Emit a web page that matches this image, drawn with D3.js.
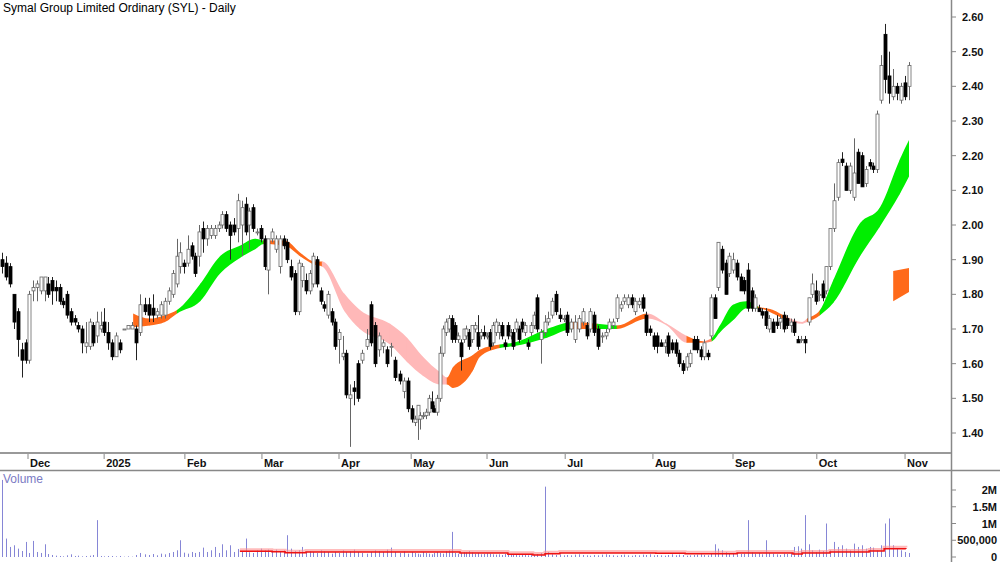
<!DOCTYPE html>
<html><head><meta charset="utf-8">
<script src="https://cdn.jsdelivr.net/npm/d3@7"></script>
<style>body{margin:0;background:#fff}svg{display:block;font-family:Arial,"Liberation Sans",sans-serif}</style>
</head><body><svg id="c" width="1000" height="562"></svg>
<script>
const title = "Symal Group Limited Ordinary (SYL) - Daily";
const monthLabels = ["Dec","2025","Feb","Mar","Apr","May","Jun","Jul","Aug","Sep","Oct","Nov"];
const monthIdx = [6.6,26.9,47.2,67.3,88,105.8,132,156.4,179.8,202,225.3,248];
const priceTicks = [1.4,1.5,1.6,1.7,1.8,1.9,2.0,2.1,2.2,2.3,2.4,2.5,2.6];
const volTicks = [0,500000,1000000,1500000,2000000];
const volTickLabels = ["0","500,000","1M","1.5M","2M"];
// OHLC by month
const ohlcNov = [[1.90,1.92,1.86,1.88],[1.89,1.91,1.84,1.85],[1.88,1.89,1.82,1.83],[1.80,1.80,1.70,1.72],[1.75,1.76,1.62,1.67],[1.64,1.66,1.56,1.61],[1.66,1.67,1.60,1.61],[1.61,1.81,1.60,1.80]];
const ohlcDec = [[1.81,1.84,1.78,1.82],[1.82,1.84,1.78,1.83],[1.81,1.85,1.80,1.85],[1.81,1.85,1.78,1.85],[1.83,1.85,1.79,1.80],[1.84,1.85,1.77,1.81],[1.82,1.84,1.78,1.81],[1.82,1.83,1.77,1.78],[1.78,1.79,1.76,1.77],[1.80,1.81,1.73,1.74],[1.75,1.76,1.71,1.72],[1.73,1.74,1.71,1.72],[1.71,1.72,1.69,1.70],[1.70,1.71,1.63,1.66],[1.65,1.72,1.63,1.66],[1.65,1.73,1.64,1.72],[1.71,1.72,1.65,1.66],[1.68,1.75,1.66,1.72],[1.70,1.75,1.69,1.71],[1.72,1.76,1.68,1.69],[1.69,1.72,1.64,1.66]];
const ohlcJan = [[1.66,1.67,1.61,1.62],[1.62,1.69,1.62,1.68],[1.66,1.67,1.63,1.64],[1.70,1.70,1.70,1.70],[1.70,1.71,1.70,1.71],[1.70,1.72,1.70,1.71],[1.70,1.71,1.61,1.66],[1.69,1.80,1.68,1.77],[1.77,1.79,1.74,1.75],[1.77,1.79,1.72,1.74],[1.76,1.80,1.72,1.74],[1.74,1.76,1.73,1.75],[1.74,1.78,1.73,1.77],[1.74,1.79,1.73,1.78],[1.78,1.82,1.77,1.81],[1.80,1.87,1.79,1.86],[1.83,1.96,1.82,1.91],[1.88,1.95,1.86,1.92],[1.89,1.90,1.86,1.88],[1.89,1.97,1.88,1.93],[1.94,1.95,1.90,1.91],[1.91,1.92,1.85,1.86],[1.91,2.00,1.88,1.98]];
const ohlcFeb = [[1.99,2.01,1.92,1.96],[1.96,2.00,1.94,1.99],[1.97,2.00,1.96,1.99],[1.97,2.00,1.96,1.99],[1.99,2.01,1.98,2.00],[2.00,2.04,1.99,2.03],[2.03,2.04,1.98,1.99],[2.00,2.01,1.90,1.97],[2.00,2.02,1.97,1.98],[1.99,2.09,1.95,2.07],[2.00,2.07,1.91,2.05],[2.06,2.08,1.97,1.98],[2.00,2.05,1.93,2.04],[2.05,2.06,1.98,1.99],[1.98,1.99,1.97,1.98],[1.99,2.00,1.95,1.96],[1.96,1.97,1.87,1.88],[1.87,1.96,1.80,1.96],[1.96,1.99,1.95,1.98],[1.93,1.97,1.92,1.96],[1.88,1.97,1.86,1.96]];
const ohlcMar = [[1.96,1.97,1.93,1.94],[1.95,1.96,1.89,1.90],[1.88,1.90,1.84,1.85],[1.86,1.87,1.74,1.75],[1.75,1.90,1.74,1.89],[1.84,1.89,1.82,1.88],[1.84,1.86,1.80,1.81],[1.81,1.87,1.80,1.86],[1.83,1.92,1.82,1.91],[1.90,1.91,1.82,1.83],[1.81,1.82,1.77,1.78],[1.77,1.78,1.75,1.76],[1.74,1.81,1.73,1.80],[1.75,1.76,1.71,1.72],[1.72,1.73,1.64,1.65],[1.67,1.70,1.60,1.69],[1.62,1.68,1.61,1.63],[1.63,1.64,1.50,1.51],[1.50,1.54,1.36,1.51],[1.53,1.55,1.48,1.52],[1.60,1.61,1.49,1.50]];
const ohlcApr = [[1.61,1.64,1.60,1.63],[1.65,1.70,1.64,1.67],[1.77,1.78,1.65,1.66],[1.71,1.72,1.59,1.60],[1.64,1.69,1.62,1.68],[1.65,1.67,1.63,1.66],[1.64,1.65,1.59,1.60],[1.65,1.66,1.62,1.65],[1.61,1.62,1.55,1.56],[1.57,1.58,1.54,1.55],[1.52,1.56,1.50,1.55],[1.55,1.56,1.46,1.47],[1.47,1.48,1.43,1.44],[1.43,1.45,1.42,1.44],[1.44,1.48,1.38,1.48],[1.44,1.46,1.41,1.45],[1.45,1.46,1.44,1.45],[1.45,1.47,1.44,1.46],[1.46,1.51,1.45,1.50],[1.49,1.52,1.46,1.47],[1.47,1.48,1.46,1.46]];
const ohlcMay = [[1.46,1.51,1.45,1.50],[1.50,1.65,1.49,1.63],[1.63,1.71,1.62,1.70],[1.69,1.73,1.68,1.72],[1.70,1.74,1.69,1.73],[1.73,1.74,1.66,1.67],[1.71,1.72,1.66,1.67],[1.67,1.69,1.66,1.68],[1.66,1.67,1.58,1.62],[1.67,1.70,1.66,1.70],[1.68,1.71,1.67,1.70],[1.69,1.70,1.64,1.65],[1.67,1.71,1.66,1.71],[1.70,1.72,1.69,1.71],[1.69,1.74,1.64,1.65],[1.68,1.70,1.67,1.69],[1.69,1.71,1.67,1.68],[1.68,1.69,1.67,1.68],[1.69,1.70,1.64,1.65],[1.66,1.72,1.65,1.71],[1.69,1.73,1.68,1.72]];
const ohlcJun = [[1.69,1.72,1.67,1.71],[1.71,1.72,1.67,1.68],[1.66,1.67,1.64,1.65],[1.71,1.72,1.67,1.68],[1.68,1.70,1.67,1.69],[1.69,1.70,1.64,1.65],[1.70,1.73,1.69,1.72],[1.70,1.71,1.66,1.67],[1.72,1.73,1.69,1.70],[1.69,1.72,1.68,1.71],[1.66,1.67,1.64,1.65],[1.69,1.72,1.68,1.71],[1.71,1.75,1.70,1.74],[1.79,1.80,1.69,1.70],[1.67,1.70,1.60,1.69],[1.69,1.74,1.68,1.72],[1.72,1.75,1.71,1.73],[1.74,1.79,1.73,1.78],[1.80,1.81,1.74,1.75],[1.74,1.76,1.72,1.73],[1.73,1.74,1.72,1.73]];
const ohlcJul = [[1.74,1.75,1.68,1.69],[1.70,1.73,1.69,1.72],[1.67,1.74,1.66,1.72],[1.70,1.74,1.69,1.73],[1.72,1.76,1.71,1.75],[1.71,1.72,1.67,1.68],[1.70,1.76,1.69,1.75],[1.74,1.75,1.68,1.69],[1.70,1.71,1.64,1.65],[1.68,1.69,1.66,1.68],[1.68,1.70,1.67,1.69],[1.70,1.73,1.69,1.72],[1.71,1.73,1.70,1.72],[1.73,1.80,1.72,1.79],[1.76,1.78,1.75,1.77],[1.78,1.80,1.77,1.79],[1.77,1.80,1.76,1.79],[1.79,1.80,1.76,1.77],[1.75,1.79,1.74,1.78],[1.77,1.79,1.76,1.78],[1.79,1.80,1.75,1.76],[1.74,1.75,1.68,1.69],[1.70,1.71,1.68,1.69],[1.68,1.69,1.64,1.65],[1.68,1.69,1.63,1.65]];
const ohlcAug = [[1.66,1.67,1.65,1.65],[1.65,1.67,1.63,1.66],[1.68,1.69,1.62,1.63],[1.66,1.67,1.63,1.64],[1.66,1.67,1.62,1.63],[1.63,1.64,1.59,1.60],[1.60,1.61,1.57,1.58],[1.59,1.63,1.58,1.62],[1.60,1.64,1.59,1.63],[1.67,1.68,1.64,1.64],[1.67,1.68,1.63,1.64],[1.64,1.65,1.61,1.62],[1.62,1.67,1.61,1.66],[1.63,1.64,1.61,1.62],[1.68,1.80,1.67,1.79],[1.79,1.80,1.73,1.73],[1.82,1.95,1.81,1.95],[1.93,1.94,1.86,1.87],[1.89,1.90,1.80,1.80],[1.86,1.92,1.85,1.91],[1.87,1.92,1.86,1.90],[1.89,1.90,1.84,1.85],[1.85,1.86,1.81,1.81],[1.84,1.85,1.80,1.81],[1.87,1.89,1.75,1.76]];
const ohlcSep = [[1.81,1.82,1.75,1.76],[1.76,1.80,1.75,1.79],[1.76,1.77,1.75,1.75],[1.75,1.76,1.73,1.74],[1.75,1.76,1.70,1.71],[1.70,1.74,1.69,1.73],[1.72,1.73,1.69,1.69],[1.72,1.74,1.70,1.71],[1.72,1.74,1.70,1.73],[1.74,1.75,1.69,1.70],[1.73,1.74,1.70,1.71],[1.71,1.73,1.69,1.72],[1.72,1.73,1.68,1.69],[1.67,1.68,1.66,1.66],[1.67,1.68,1.66,1.67],[1.67,1.68,1.63,1.66],[1.72,1.79,1.71,1.79],[1.80,1.86,1.79,1.83],[1.81,1.84,1.77,1.78],[1.80,1.81,1.78,1.80],[1.83,1.84,1.78,1.79],[1.81,1.88,1.80,1.88]];
const ohlcOct = [[1.88,1.99,1.87,1.99],[1.99,2.12,1.98,2.07],[2.08,2.19,2.07,2.18],[2.19,2.21,2.17,2.18],[2.17,2.18,2.10,2.10],[2.10,2.18,2.09,2.17],[2.08,2.25,2.07,2.15],[2.21,2.22,2.12,2.12],[2.20,2.21,2.11,2.11],[2.12,2.17,2.11,2.16],[2.18,2.19,2.16,2.17],[2.17,2.18,2.15,2.16],[2.16,2.33,2.15,2.32],[2.36,2.49,2.35,2.46],[2.55,2.58,2.38,2.42],[2.43,2.50,2.35,2.38],[2.37,2.45,2.36,2.40],[2.40,2.41,2.36,2.38],[2.36,2.41,2.35,2.40],[2.41,2.43,2.36,2.37],[2.40,2.47,2.36,2.46]];
// volume (thousands)
const volNov = [2300,550,300,350,250,180,450,120];
const volDec = [480,150,120,380,90,60,40,30,20,50,80,30,40,20,30,40,60,1100,30,20,30];
const volJan = [30,20,30,10,20,10,60,120,80,60,90,50,100,80,120,150,200,500,130,100,150,120,150];
const volFeb = [280,150,200,300,120,380,200,350,150,240,180,550,140,120,200,250,200,220,200,220,180];
const volMar = [200,650,250,180,200,300,150,180,150,120,200,180,150,100,150,120,200,150,180,220,150];
const volApr = [120,100,150,200,180,150,220,280,150,120,180,100,150,120,100,80,150,120,100,80,120];
const volMay = [150,120,100,180,200,750,120,100,130,150,150,180,150,100,120,80,90,110,100,80,70];
const volJun = [80,60,90,100,70,80,60,50,70,60,50,80,70,90,120,2100,150,80,60,70,50];
const volJul = [60,50,70,80,60,50,40,60,50,70,80,60,50,40,60,70,50,40,60,50,70,60,80,50,60];
const volAug = [50,40,60,80,50,70,60,40,50,60,70,80,60,50,120,380,250,200,150,100,120,80,90,100,1100];
const volSep = [150,100,120,80,500,120,100,80,60,100,90,120,300,320,250,1250,380,200,150,220,180,1000];
const volOct = [200,450,300,350,250,200,400,300,350,250,300,280,200,350,1000,1150,350,250,200,150,120];
// volume moving average (index, millions)
const volMaIdx = [61.5,69.9,73.4,79,107.1,122.8,133,139.1,147.6,151.1,155,180.6,188.6,203.1,214.4,218.6,221.2,229,238.9,242.7,248.2];
const volMaVal = [0.17,0.16,0.13,0.15,0.15,0.12,0.12,0.08,0.06,0.10,0.12,0.11,0.10,0.12,0.12,0.09,0.12,0.15,0.18,0.25,0.24];
// ribbon: index, top, bottom, state of following segment (o=orange,g=green,p=pink)
const ribIdx = [34.2,38.3,42.0,45.1,51.3,56.4,61.5,65.5,67.8,73.4,77.4,81.4,83.4,89.6,93.4,100.7,104.8,109.9,116,118.4,120.4,127.2,129.6,136.4,140.8,151.6,158.5,164.8,170,178.2,183.6,189.1,193.7,196.3,198.5,202,205.7,208.8,213,216.9,221.2,222.6,226.2,229.8,236.6,241.6,246.7,249];
const ribTop = [1.745,1.73,1.74,1.755,1.83,1.91,1.94,1.96,1.955,1.955,1.92,1.895,1.895,1.80,1.755,1.715,1.675,1.62,1.575,1.56,1.59,1.625,1.64,1.655,1.66,1.70,1.72,1.715,1.71,1.745,1.715,1.68,1.665,1.675,1.71,1.77,1.78,1.765,1.755,1.735,1.72,1.73,1.755,1.84,2.005,2.05,2.19,2.245];
const ribBot = [1.705,1.71,1.72,1.745,1.78,1.86,1.905,1.93,1.945,1.94,1.91,1.885,1.88,1.75,1.70,1.655,1.605,1.565,1.54,1.54,1.53,1.58,1.62,1.645,1.65,1.675,1.70,1.70,1.70,1.73,1.71,1.66,1.66,1.665,1.69,1.725,1.76,1.76,1.745,1.725,1.715,1.72,1.74,1.775,1.91,1.995,2.09,2.14];
const ribState = "ooogggggoooopppppppoooogggogopponggggooppogggggg";
const projIdx = [245,249], projTop = [1.867,1.876], projBot = [1.78,1.807];

const ohlc = [].concat(ohlcNov,ohlcDec,ohlcJan,ohlcFeb,ohlcMar,ohlcApr,ohlcMay,ohlcJun,ohlcJul,ohlcAug,ohlcSep,ohlcOct);
const vols = [].concat(volNov,volDec,volJan,volFeb,volMar,volApr,volMay,volJun,volJul,volAug,volSep,volOct);

const svg = d3.select("#c");
const x = d3.scaleLinear()
  .domain([0,5,29,44,51,61,76,91,106,116,149,170,188,198,206,229,249])
  .range([2,22,112,173,199,238,295,350,412,440,537,617,683,718,748,830,909]);
const y = d3.scaleLinear().domain([1.4,2.6]).range([433,17]);
const yv = d3.scaleLinear().domain([0,2000000]).range([557,490]);

svg.append("line").attr("x1",951.5).attr("x2",951.5).attr("y1",0).attr("y2",562).attr("stroke","#888").attr("stroke-width",1.5);
svg.append("line").attr("x1",0).attr("x2",951).attr("y1",453).attr("y2",453).attr("stroke","#999").attr("stroke-width",2);
svg.append("line").attr("x1",0).attr("x2",1000).attr("y1",470.5).attr("y2",470.5).attr("stroke","#888").attr("stroke-width",1.5);

// ribbon: one smooth area, clipped per colour segment
const colors = {o:"#ff6a1a",g:"#00ee00",p:"#ffb8b8",n:"#ff8a6a"};
const defs = svg.append("defs");
const idxs = d3.range(ribIdx.length);
const area = d3.area().x(j=>x(ribIdx[j])).y0(j=>y(ribBot[j])).y1(j=>y(ribTop[j])).curve(d3.curveMonotoneX);
const areaD = area(idxs);
for (let k=0;k<ribIdx.length-1;k++){
  const id="rc"+k;
  const x0=x(ribIdx[k]), x1=x(ribIdx[k+1]);
  defs.append("clipPath").attr("id",id).append("rect").attr("x",x0-0.3).attr("y",0).attr("width",x1-x0+0.6).attr("height",460);
  svg.append("path").attr("d",areaD).attr("fill",colors[ribState[k]]).attr("clip-path",`url(#${id})`);
}
svg.append("path").attr("d",`M${x(projIdx[0])},${y(projTop[0])}L${x(projIdx[1])},${y(projTop[1])}L${x(projIdx[1])},${y(projBot[1])}L${x(projIdx[0])},${y(projBot[0])}Z`).attr("fill","#ff6a1a");

const cg = svg.append("g");
ohlc.forEach((d,i)=>{
  const [o,h,l,c]=d; const up=c>=o; const cx=Math.round(x(i))+0.5;
  cg.append("line").attr("x1",cx).attr("x2",cx).attr("y1",y(h)).attr("y2",y(l)).attr("stroke",up?"#666":"#222").attr("stroke-width",1);
  const t=y(Math.max(o,c)), b=y(Math.min(o,c));
  cg.append("rect").attr("x",cx-1.5).attr("y",t).attr("width",3).attr("height",Math.max(1,b-t))
    .attr("fill",up?"#fff":"#000").attr("stroke",up?"#666":"#000").attr("stroke-width",0.8);
});

priceTicks.forEach(p=>{
  svg.append("line").attr("x1",951).attr("x2",956).attr("y1",y(p)).attr("y2",y(p)).attr("stroke","#888");
  svg.append("text").attr("x",962).attr("y",y(p)+4).text(p.toFixed(2)).attr("font-size",11).attr("font-weight","bold").attr("fill","#111");
});
monthIdx.forEach((m,k)=>{
  svg.append("line").attr("x1",x(m)).attr("x2",x(m)).attr("y1",454).attr("y2",459).attr("stroke","#888");
  svg.append("text").attr("x",x(m)+2).attr("y",467).text(monthLabels[k]).attr("font-size",11).attr("font-weight","bold").attr("fill","#111");
});
svg.append("text").attr("x",3).attr("y",12).text(title).attr("font-size",12).attr("fill","#000");

svg.append("text").attr("x",3).attr("y",483).text("Volume").attr("font-size",12).attr("fill","#7b7bc4");
vols.forEach((v,i)=>{
  const cx=Math.round(x(i))+0.5;
  svg.append("line").attr("x1",cx).attr("x2",cx).attr("y1",yv(0)).attr("y2",Math.max(473,yv(v*1000))).attr("stroke","#8686d6").attr("stroke-width",1);
});
const maLine=d3.line().x((d,i)=>x(volMaIdx[i])).y((d,i)=>yv(volMaVal[i]*1e6)).curve(d3.curveStepAfter);
svg.append("path").attr("d",maLine(volMaIdx)).attr("fill","none").attr("stroke","#ff9090").attr("stroke-width",3).attr("opacity",0.6).attr("transform","translate(0,-1.5)");
svg.append("path").attr("d",maLine(volMaIdx)).attr("fill","none").attr("stroke","#ee1111").attr("stroke-width",1.5);
volTicks.forEach((t,k)=>{
  svg.append("line").attr("x1",951).attr("x2",956).attr("y1",yv(t)).attr("y2",yv(t)).attr("stroke","#888");
  svg.append("text").attr("x",997).attr("y",yv(t)+4).attr("text-anchor","end").text(volTickLabels[k]).attr("font-size",11).attr("font-weight","bold").attr("fill","#111");
});
</script></body></html>
